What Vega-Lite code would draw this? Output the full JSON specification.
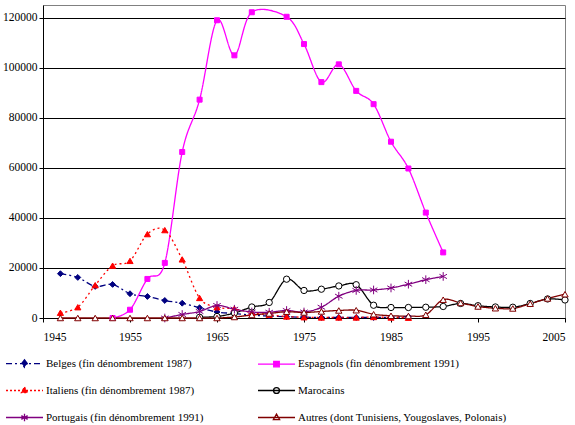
{
  "$schema": "https://vega.github.io/schema/vega-lite/v6.json",
  "width": 522,
  "height": 313,
  "autosize": "none",
  "padding": {"left": 43, "top": 5, "right": 10, "bottom": 107},
  "background": "white",
  "data": {"values": [
    {"annee": 1947, "serie": "Belges (fin dénombrement 1987)", "effectif": 17700},
    {"annee": 1949, "serie": "Belges (fin dénombrement 1987)", "effectif": 16200},
    {"annee": 1951, "serie": "Belges (fin dénombrement 1987)", "effectif": 12600},
    {"annee": 1953, "serie": "Belges (fin dénombrement 1987)", "effectif": 13400},
    {"annee": 1955, "serie": "Belges (fin dénombrement 1987)", "effectif": 9700},
    {"annee": 1957, "serie": "Belges (fin dénombrement 1987)", "effectif": 8600},
    {"annee": 1959, "serie": "Belges (fin dénombrement 1987)", "effectif": 7000},
    {"annee": 1961, "serie": "Belges (fin dénombrement 1987)", "effectif": 5900},
    {"annee": 1963, "serie": "Belges (fin dénombrement 1987)", "effectif": 4100},
    {"annee": 1965, "serie": "Belges (fin dénombrement 1987)", "effectif": 2400},
    {"annee": 1967, "serie": "Belges (fin dénombrement 1987)", "effectif": 1800},
    {"annee": 1969, "serie": "Belges (fin dénombrement 1987)", "effectif": 1100},
    {"annee": 1971, "serie": "Belges (fin dénombrement 1987)", "effectif": 800},
    {"annee": 1973, "serie": "Belges (fin dénombrement 1987)", "effectif": 500},
    {"annee": 1975, "serie": "Belges (fin dénombrement 1987)", "effectif": 300},
    {"annee": 1977, "serie": "Belges (fin dénombrement 1987)", "effectif": 200},
    {"annee": 1979, "serie": "Belges (fin dénombrement 1987)", "effectif": 200},
    {"annee": 1981, "serie": "Belges (fin dénombrement 1987)", "effectif": 200},
    {"annee": 1983, "serie": "Belges (fin dénombrement 1987)", "effectif": 200},
    {"annee": 1985, "serie": "Belges (fin dénombrement 1987)", "effectif": 300},
    {"annee": 1987, "serie": "Belges (fin dénombrement 1987)", "effectif": 500},
    {"annee": 1953, "serie": "Espagnols (fin dénombrement 1991)", "effectif": 0},
    {"annee": 1955, "serie": "Espagnols (fin dénombrement 1991)", "effectif": 3300},
    {"annee": 1957, "serie": "Espagnols (fin dénombrement 1991)", "effectif": 15600},
    {"annee": 1959, "serie": "Espagnols (fin dénombrement 1991)", "effectif": 22000},
    {"annee": 1961, "serie": "Espagnols (fin dénombrement 1991)", "effectif": 66300},
    {"annee": 1963, "serie": "Espagnols (fin dénombrement 1991)", "effectif": 87200},
    {"annee": 1965, "serie": "Espagnols (fin dénombrement 1991)", "effectif": 118900},
    {"annee": 1967, "serie": "Espagnols (fin dénombrement 1991)", "effectif": 104900},
    {"annee": 1969, "serie": "Espagnols (fin dénombrement 1991)", "effectif": 122100},
    {"annee": 1973, "serie": "Espagnols (fin dénombrement 1991)", "effectif": 120300},
    {"annee": 1975, "serie": "Espagnols (fin dénombrement 1991)", "effectif": 109400},
    {"annee": 1977, "serie": "Espagnols (fin dénombrement 1991)", "effectif": 94200},
    {"annee": 1979, "serie": "Espagnols (fin dénombrement 1991)", "effectif": 101300},
    {"annee": 1981, "serie": "Espagnols (fin dénombrement 1991)", "effectif": 90700},
    {"annee": 1983, "serie": "Espagnols (fin dénombrement 1991)", "effectif": 85400},
    {"annee": 1985, "serie": "Espagnols (fin dénombrement 1991)", "effectif": 70400},
    {"annee": 1987, "serie": "Espagnols (fin dénombrement 1991)", "effectif": 59700},
    {"annee": 1989, "serie": "Espagnols (fin dénombrement 1991)", "effectif": 42100},
    {"annee": 1991, "serie": "Espagnols (fin dénombrement 1991)", "effectif": 26200},
    {"annee": 1947, "serie": "Italiens (fin dénombrement 1987)", "effectif": 2100},
    {"annee": 1949, "serie": "Italiens (fin dénombrement 1987)", "effectif": 4300},
    {"annee": 1951, "serie": "Italiens (fin dénombrement 1987)", "effectif": 13100},
    {"annee": 1953, "serie": "Italiens (fin dénombrement 1987)", "effectif": 20900},
    {"annee": 1955, "serie": "Italiens (fin dénombrement 1987)", "effectif": 22800},
    {"annee": 1957, "serie": "Italiens (fin dénombrement 1987)", "effectif": 33500},
    {"annee": 1959, "serie": "Italiens (fin dénombrement 1987)", "effectif": 35100},
    {"annee": 1961, "serie": "Italiens (fin dénombrement 1987)", "effectif": 23400},
    {"annee": 1963, "serie": "Italiens (fin dénombrement 1987)", "effectif": 8000},
    {"annee": 1965, "serie": "Italiens (fin dénombrement 1987)", "effectif": 4300},
    {"annee": 1967, "serie": "Italiens (fin dénombrement 1987)", "effectif": 3700},
    {"annee": 1969, "serie": "Italiens (fin dénombrement 1987)", "effectif": 2100},
    {"annee": 1971, "serie": "Italiens (fin dénombrement 1987)", "effectif": 1300},
    {"annee": 1973, "serie": "Italiens (fin dénombrement 1987)", "effectif": 600},
    {"annee": 1975, "serie": "Italiens (fin dénombrement 1987)", "effectif": 300},
    {"annee": 1977, "serie": "Italiens (fin dénombrement 1987)", "effectif": 200},
    {"annee": 1979, "serie": "Italiens (fin dénombrement 1987)", "effectif": 200},
    {"annee": 1981, "serie": "Italiens (fin dénombrement 1987)", "effectif": 200},
    {"annee": 1983, "serie": "Italiens (fin dénombrement 1987)", "effectif": 400},
    {"annee": 1985, "serie": "Italiens (fin dénombrement 1987)", "effectif": 200},
    {"annee": 1987, "serie": "Italiens (fin dénombrement 1987)", "effectif": 100},
    {"annee": 1963, "serie": "Marocains", "effectif": 300},
    {"annee": 1965, "serie": "Marocains", "effectif": 600},
    {"annee": 1967, "serie": "Marocains", "effectif": 2000},
    {"annee": 1969, "serie": "Marocains", "effectif": 4400},
    {"annee": 1971, "serie": "Marocains", "effectif": 6200},
    {"annee": 1973, "serie": "Marocains", "effectif": 15500},
    {"annee": 1975, "serie": "Marocains", "effectif": 11000},
    {"annee": 1977, "serie": "Marocains", "effectif": 11500},
    {"annee": 1979, "serie": "Marocains", "effectif": 12800},
    {"annee": 1981, "serie": "Marocains", "effectif": 13300},
    {"annee": 1983, "serie": "Marocains", "effectif": 5100},
    {"annee": 1985, "serie": "Marocains", "effectif": 4200},
    {"annee": 1987, "serie": "Marocains", "effectif": 4200},
    {"annee": 1989, "serie": "Marocains", "effectif": 4300},
    {"annee": 1991, "serie": "Marocains", "effectif": 4600},
    {"annee": 1993, "serie": "Marocains", "effectif": 5800},
    {"annee": 1995, "serie": "Marocains", "effectif": 4900},
    {"annee": 1997, "serie": "Marocains", "effectif": 4400},
    {"annee": 1999, "serie": "Marocains", "effectif": 4300},
    {"annee": 2001, "serie": "Marocains", "effectif": 5800},
    {"annee": 2003, "serie": "Marocains", "effectif": 7600},
    {"annee": 2005, "serie": "Marocains", "effectif": 7200},
    {"annee": 1959, "serie": "Portugais (fin dénombrement 1991)", "effectif": 0},
    {"annee": 1961, "serie": "Portugais (fin dénombrement 1991)", "effectif": 1400},
    {"annee": 1963, "serie": "Portugais (fin dénombrement 1991)", "effectif": 2600},
    {"annee": 1965, "serie": "Portugais (fin dénombrement 1991)", "effectif": 5000},
    {"annee": 1967, "serie": "Portugais (fin dénombrement 1991)", "effectif": 3500},
    {"annee": 1969, "serie": "Portugais (fin dénombrement 1991)", "effectif": 2400},
    {"annee": 1971, "serie": "Portugais (fin dénombrement 1991)", "effectif": 2300},
    {"annee": 1973, "serie": "Portugais (fin dénombrement 1991)", "effectif": 3000},
    {"annee": 1975, "serie": "Portugais (fin dénombrement 1991)", "effectif": 2400},
    {"annee": 1977, "serie": "Portugais (fin dénombrement 1991)", "effectif": 4300},
    {"annee": 1979, "serie": "Portugais (fin dénombrement 1991)", "effectif": 8700},
    {"annee": 1981, "serie": "Portugais (fin dénombrement 1991)", "effectif": 11000},
    {"annee": 1983, "serie": "Portugais (fin dénombrement 1991)", "effectif": 11200},
    {"annee": 1985, "serie": "Portugais (fin dénombrement 1991)", "effectif": 12000},
    {"annee": 1987, "serie": "Portugais (fin dénombrement 1991)", "effectif": 13500},
    {"annee": 1989, "serie": "Portugais (fin dénombrement 1991)", "effectif": 15300},
    {"annee": 1991, "serie": "Portugais (fin dénombrement 1991)", "effectif": 16600},
    {"annee": 1947, "serie": "Autres (dont Tunisiens, Yougoslaves, Polonais)", "effectif": 0},
    {"annee": 1949, "serie": "Autres (dont Tunisiens, Yougoslaves, Polonais)", "effectif": 0},
    {"annee": 1951, "serie": "Autres (dont Tunisiens, Yougoslaves, Polonais)", "effectif": 0},
    {"annee": 1953, "serie": "Autres (dont Tunisiens, Yougoslaves, Polonais)", "effectif": 0},
    {"annee": 1955, "serie": "Autres (dont Tunisiens, Yougoslaves, Polonais)", "effectif": 0},
    {"annee": 1957, "serie": "Autres (dont Tunisiens, Yougoslaves, Polonais)", "effectif": 0},
    {"annee": 1959, "serie": "Autres (dont Tunisiens, Yougoslaves, Polonais)", "effectif": 0},
    {"annee": 1961, "serie": "Autres (dont Tunisiens, Yougoslaves, Polonais)", "effectif": 0},
    {"annee": 1963, "serie": "Autres (dont Tunisiens, Yougoslaves, Polonais)", "effectif": 0},
    {"annee": 1965, "serie": "Autres (dont Tunisiens, Yougoslaves, Polonais)", "effectif": 0},
    {"annee": 1967, "serie": "Autres (dont Tunisiens, Yougoslaves, Polonais)", "effectif": 400},
    {"annee": 1969, "serie": "Autres (dont Tunisiens, Yougoslaves, Polonais)", "effectif": 1200},
    {"annee": 1971, "serie": "Autres (dont Tunisiens, Yougoslaves, Polonais)", "effectif": 1800},
    {"annee": 1973, "serie": "Autres (dont Tunisiens, Yougoslaves, Polonais)", "effectif": 2500},
    {"annee": 1975, "serie": "Autres (dont Tunisiens, Yougoslaves, Polonais)", "effectif": 2200},
    {"annee": 1977, "serie": "Autres (dont Tunisiens, Yougoslaves, Polonais)", "effectif": 2600},
    {"annee": 1979, "serie": "Autres (dont Tunisiens, Yougoslaves, Polonais)", "effectif": 3000},
    {"annee": 1981, "serie": "Autres (dont Tunisiens, Yougoslaves, Polonais)", "effectif": 3100},
    {"annee": 1983, "serie": "Autres (dont Tunisiens, Yougoslaves, Polonais)", "effectif": 1500},
    {"annee": 1985, "serie": "Autres (dont Tunisiens, Yougoslaves, Polonais)", "effectif": 900},
    {"annee": 1987, "serie": "Autres (dont Tunisiens, Yougoslaves, Polonais)", "effectif": 800},
    {"annee": 1989, "serie": "Autres (dont Tunisiens, Yougoslaves, Polonais)", "effectif": 1300},
    {"annee": 1991, "serie": "Autres (dont Tunisiens, Yougoslaves, Polonais)", "effectif": 7300},
    {"annee": 1993, "serie": "Autres (dont Tunisiens, Yougoslaves, Polonais)", "effectif": 6000},
    {"annee": 1995, "serie": "Autres (dont Tunisiens, Yougoslaves, Polonais)", "effectif": 4600},
    {"annee": 1997, "serie": "Autres (dont Tunisiens, Yougoslaves, Polonais)", "effectif": 3900},
    {"annee": 1999, "serie": "Autres (dont Tunisiens, Yougoslaves, Polonais)", "effectif": 3800},
    {"annee": 2001, "serie": "Autres (dont Tunisiens, Yougoslaves, Polonais)", "effectif": 5700},
    {"annee": 2003, "serie": "Autres (dont Tunisiens, Yougoslaves, Polonais)", "effectif": 7800},
    {"annee": 2005, "serie": "Autres (dont Tunisiens, Yougoslaves, Polonais)", "effectif": 9500}
  ]},
  "encoding": {
    "x": {"field": "annee", "type": "quantitative",
      "scale": {"domain": [1945, 2005], "nice": false, "zero": false},
      "axis": {"title": null, "values": [1945, 1955, 1965, 1975, 1985, 1995, 2005], "format": "d", "grid": false, "labelPadding": 9, "tickSize": 4}},
    "y": {"field": "effectif", "type": "quantitative",
      "scale": {"domain": [0, 125000], "nice": false},
      "axis": {"title": null, "values": [0, 20000, 40000, 60000, 80000, 100000, 120000], "format": "d", "grid": true, "labelPadding": 2, "tickSize": 4}}
  },
  "layer": [
    {
      "mark": {"type": "line", "interpolate": "cardinal", "strokeWidth": 1.3},
      "encoding": {
        "color": {"field": "serie", "type": "nominal",
          "scale": {"domain": ["Belges (fin dénombrement 1987)", "Espagnols (fin dénombrement 1991)", "Italiens (fin dénombrement 1987)", "Marocains", "Portugais (fin dénombrement 1991)", "Autres (dont Tunisiens, Yougoslaves, Polonais)"],
            "range": ["#000080", "#FF00FF", "#FF0000", "#000000", "#800080", "#800000"]},
          "legend": {
            "title": null, "orient": "none", "legendX": -38, "legendY": 339,
            "columns": 2, "direction": "horizontal", "columnPadding": 51, "rowPadding": 1,
            "symbolSize": 1369, "symbolStrokeWidth": 1.3, "labelOffset": 2,
            "labelFont": "Times New Roman, Liberation Serif, DejaVu Serif, serif", "labelFontSize": 11, "labelColor": "#000000", "labelLimit": 400,
            "encode": {"symbols": {"update": {
              "shape": {"signal": "['M-1,0H1M0,-0.2L0.15,0L0,0.2L-0.15,0Z', 'M-1,0H1M-0.15,-0.15H0.15V0.15H-0.15Z', 'M-1,0H1M0,-0.19L0.17,0.12H-0.17Z', 'M-1,0H1M0.16,0A0.16,0.16 0 1 1 -0.16,0A0.16,0.16 0 1 1 0.16,0Z', 'M-1,0H1M0,-0.2V0.2M-0.17,-0.1L0.17,0.1M-0.17,0.1L0.17,-0.1', 'M-1,0H1M0,-0.19L0.17,0.12H-0.17Z'][datum.index]"},
              "strokeDash": {"signal": "[[6,3,2,3], [], [2,2], [], [], []][datum.index]"},
              "fill": {"signal": "['#000080', '#FF00FF', '#FF0000', '#ffffff', '#800080', '#ffffff'][datum.index]"},
              "stroke": {"signal": "['#000080', '#FF00FF', '#FF0000', '#000000', '#800080', '#800000'][datum.index]"},
              "size": {"value": 1369},
              "strokeWidth": {"value": 1.3},
              "opacity": {"value": 1},
              "fillOpacity": {"value": 1}
            }}}
          }},
        "strokeDash": {"field": "serie", "type": "nominal",
          "scale": {"domain": ["Autres (dont Tunisiens, Yougoslaves, Polonais)", "Portugais (fin dénombrement 1991)", "Marocains", "Italiens (fin dénombrement 1987)", "Espagnols (fin dénombrement 1991)", "Belges (fin dénombrement 1987)"],
            "range": [[1, 0], [1, 0], [1, 0], [2, 3], [1, 0], [6, 3, 2, 3]]},
          "legend": null}
      }
    },
    {
      "mark": {"type": "point", "filled": true, "opacity": 1, "strokeWidth": 1},
      "encoding": {
        "shape": {"field": "serie", "type": "nominal",
          "scale": {"domain": ["Autres (dont Tunisiens, Yougoslaves, Polonais)", "Portugais (fin dénombrement 1991)", "Marocains", "Italiens (fin dénombrement 1987)", "Espagnols (fin dénombrement 1991)", "Belges (fin dénombrement 1987)"],
            "range": ["triangle-up", "M0,-1V1M-0.87,-0.5L0.87,0.5M-0.87,0.5L0.87,-0.5", "circle", "triangle-up", "square", "diamond"]},
          "legend": null},
        "size": {"field": "serie", "type": "nominal",
          "scale": {"type": "ordinal", "domain": ["Autres (dont Tunisiens, Yougoslaves, Polonais)", "Portugais (fin dénombrement 1991)", "Marocains", "Italiens (fin dénombrement 1987)", "Espagnols (fin dénombrement 1991)", "Belges (fin dénombrement 1987)"],
            "range": [40, 75, 40, 38, 25, 34]},
          "legend": null},
        "fill": {"field": "serie", "type": "nominal",
          "scale": {"domain": ["Autres (dont Tunisiens, Yougoslaves, Polonais)", "Portugais (fin dénombrement 1991)", "Marocains", "Italiens (fin dénombrement 1987)", "Espagnols (fin dénombrement 1991)", "Belges (fin dénombrement 1987)"],
            "range": ["#ffffff", "#800080", "#ffffff", "#FF0000", "#FF00FF", "#000080"]},
          "legend": null},
        "stroke": {"field": "serie", "type": "nominal",
          "scale": {"domain": ["Autres (dont Tunisiens, Yougoslaves, Polonais)", "Portugais (fin dénombrement 1991)", "Marocains", "Italiens (fin dénombrement 1987)", "Espagnols (fin dénombrement 1991)", "Belges (fin dénombrement 1987)"],
            "range": ["#800000", "#800080", "#000000", "#FF0000", "#FF00FF", "#000080"]},
          "legend": null}
      }
    }
  ],
  "resolve": {"scale": {"fill": "independent", "stroke": "independent"}},
  "config": {
    "view": {"stroke": "#808080", "strokeWidth": 1},
    "font": "Times New Roman, Liberation Serif, DejaVu Serif, serif",
    "axis": {
      "labelFont": "Times New Roman, Liberation Serif, DejaVu Serif, serif", "labelFontSize": 11.5, "labelColor": "#000000",
      "domainColor": "#000000", "tickColor": "#000000", "gridColor": "#000000", "gridWidth": 1, "gridOpacity": 1
    }
  }
}
